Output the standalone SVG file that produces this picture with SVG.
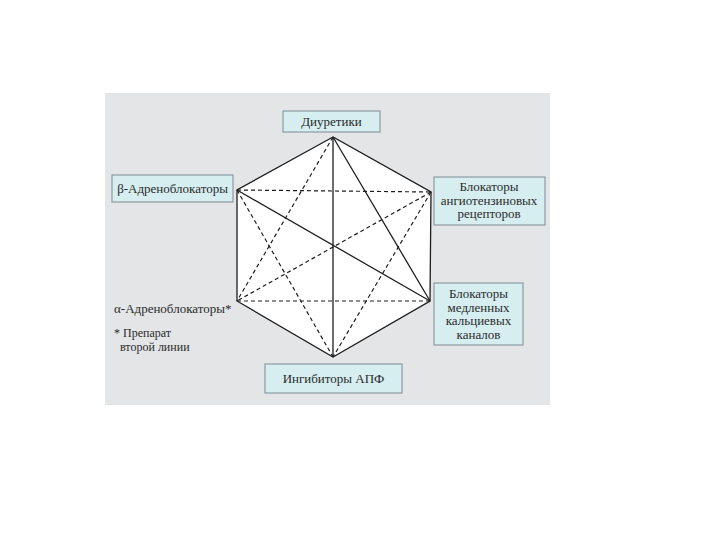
<svg xmlns="http://www.w3.org/2000/svg" width="720" height="540" viewBox="0 0 720 540">
<style>
.box{fill:#d6eef0;stroke:#8c9ca2;stroke-width:1.2}
.t{font-family:"Liberation Serif","DejaVu Serif",serif;font-size:13px;fill:#2a2a2a;text-anchor:middle}
.tl{font-family:"Liberation Serif","DejaVu Serif",serif;font-size:13px;fill:#2a2a2a}
.ts{font-family:"Liberation Serif","DejaVu Serif",serif;font-size:12px;fill:#2a2a2a}
.s{stroke:#1e1e1e;stroke-width:1.3;fill:none}
.d{stroke:#1e1e1e;stroke-width:1.2;fill:none;stroke-dasharray:4,3}
</style>
<rect x="0" y="0" width="720" height="540" fill="#ffffff"/>
<rect x="105" y="93" width="445" height="312" fill="#e3e5e7"/>
<g id="connectors">
<polygon points="333,137 237,190 237,301 333,357 430,301 431,192" fill="#ffffff" stroke="#1e1e1e" stroke-width="1.3"/>
<line class="s" x1="333" y1="137" x2="333" y2="357"/>
<line class="s" x1="333" y1="137" x2="430" y2="301"/>
<line class="s" x1="237" y1="190" x2="430" y2="301"/>
<line class="d" x1="333" y1="137" x2="237" y2="301"/>
<line class="d" x1="237" y1="190" x2="431" y2="192"/>
<line class="d" x1="237" y1="301" x2="430" y2="301"/>
<line class="d" x1="237" y1="190" x2="333" y2="357"/>
<line class="d" x1="431" y1="192" x2="333" y2="357"/>
<line class="d" x1="431" y1="192" x2="237" y2="301"/>
</g>
<g id="diuretiki">
<rect class="box" x="283" y="111" width="97" height="21"/>
<text class="t" x="331.5" y="126">Диуретики</text>
</g>
<g id="beta">
<rect class="box" x="112" y="175" width="121" height="27"/>
<text class="t" x="172.5" y="192.5">β-Адреноблокаторы</text>
</g>
<g id="arb">
<rect class="box" x="434" y="177" width="111" height="48"/>
<text class="t" x="489" y="191">Блокаторы</text>
<text class="t" x="489" y="204.5">ангиотензиновых</text>
<text class="t" x="489" y="218">рецепторов</text>
</g>
<g id="ccb">
<rect class="box" x="434" y="283" width="89" height="62"/>
<text class="t" x="478.5" y="298">Блокаторы</text>
<text class="t" x="478.5" y="311.5">медленных</text>
<text class="t" x="478.5" y="325">кальциевых</text>
<text class="t" x="478.5" y="338.5">каналов</text>
</g>
<g id="ace">
<rect class="box" x="265" y="364" width="137" height="29"/>
<text class="t" x="333.5" y="383">Ингибиторы АПФ</text>
</g>
<g id="alpha">
<text class="tl" x="114" y="313">α-Адреноблокаторы*</text>
<text class="ts" x="114" y="337">* Препарат</text>
<text class="ts" x="120" y="351">второй линии</text>
</g>
</svg>
